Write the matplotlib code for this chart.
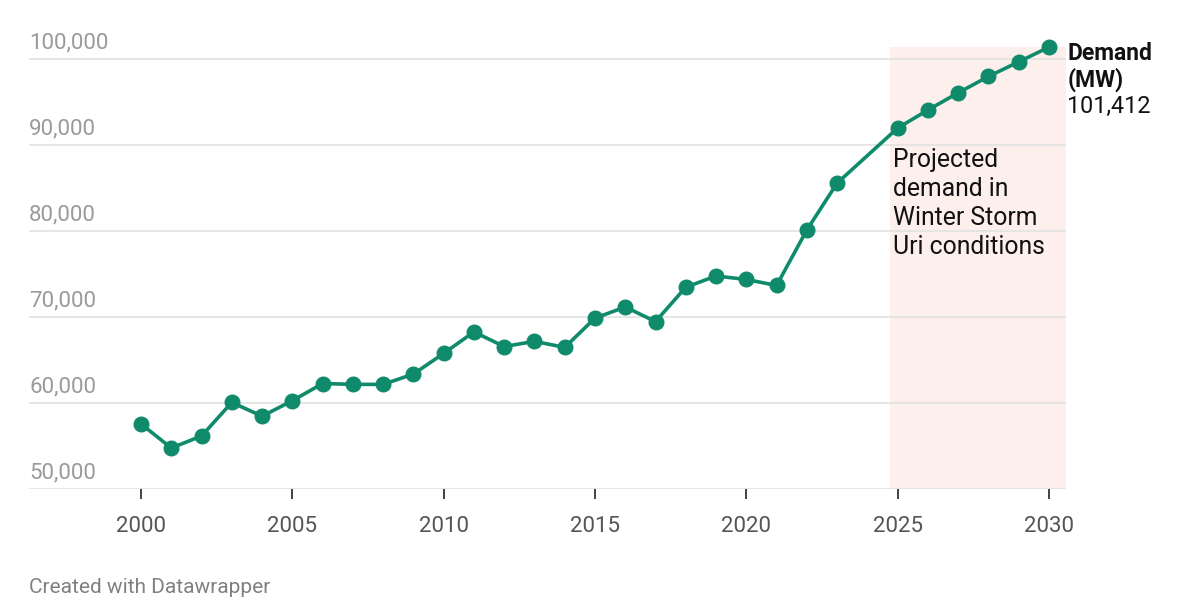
import matplotlib
matplotlib.use('Agg')
import matplotlib.pyplot as plt
import matplotlib.transforms as mtransforms

# --- Data ---
# ERCOT-style peak demand (MW), 2024 not reported; 2025+ projected
years = [2000, 2001, 2002, 2003, 2004, 2005, 2006, 2007, 2008, 2009,
         2010, 2011, 2012, 2013, 2014, 2015, 2016, 2017, 2018, 2019,
         2020, 2021, 2022, 2023, 2025, 2026, 2027, 2028, 2029, 2030]
demand = [57600, 54800, 56200, 60100, 58500, 60300, 62300, 62200, 62200, 63400,
          65800, 68300, 66600, 67200, 66500, 69900, 71200, 69500, 73500, 74800,
          74400, 73700, 80150, 85600, 92000, 94100, 96100, 98000, 99700, 101412]
y_ticks = [50000, 60000, 70000, 80000, 90000, 100000]
x_ticks = [2000, 2005, 2010, 2015, 2020, 2025, 2030]
proj_start, proj_end = 2024.75, 2030.55

line_color = '#0f8b6c'

plt.rcParams['font.family'] = ['Roboto', 'DejaVu Sans']

fig = plt.figure(figsize=(12, 6), dpi=100)
ax = fig.add_axes([0.0242, 0.1845, 0.888 - 0.0242, 0.9227 - 0.1845])

# shaded projection band
ax.fill_between([proj_start, proj_end], y_ticks[0], demand[-1],
                color='#fcefec', linewidth=0, zorder=0.2)

# gridlines
for yt in y_ticks:
    ax.axhline(yt, color='#e2e2e2', linewidth=1.2, zorder=0.5)

ax.plot(years, demand, color=line_color, linewidth=2.6, marker='o',
        markersize=10.5, zorder=3, clip_on=False)

ax.set_xlim(1996.3, proj_end)
ax.set_ylim(y_ticks[0], 101500)

for s in ax.spines.values():
    s.set_visible(False)

ax.set_yticks([])
ax.set_xticks(x_ticks)
ax.set_xticklabels([str(x) for x in x_ticks])
ax.tick_params(axis='x', length=7, width=1.2, color='#222222', pad=12,
               labelsize=16, labelcolor='#555555')

# y labels above gridlines, left aligned
trans = mtransforms.blended_transform_factory(ax.transAxes, ax.transData)
for yt in y_ticks:
    ax.text(0, yt + 700, f'{yt:,}', transform=trans, ha='left', va='bottom',
            fontsize=16, color='#9a9a9a')

# annotation inside shaded band
ax.text(2024.85, 89700, 'Projected\ndemand in\nWinter Storm\nUri conditions',
        ha='left', va='top', fontsize=17.8, color='#111111', linespacing=1.27)

# end label
ax.text(1.0015, 102000, 'Demand\n(MW)', transform=trans, ha='left', va='top',
        fontsize=16.5, fontweight='bold', color='#111111', linespacing=1.15)
ax.text(1.0015, 95900, f'{demand[-1]:,}', transform=trans, ha='left', va='top',
        fontsize=16.8, color='#111111')

fig.text(0.0242, 0.005, 'Created with Datawrapper', ha='left', va='bottom',
         fontsize=15, color='#808080')

fig.savefig('out.png', dpi=100)
